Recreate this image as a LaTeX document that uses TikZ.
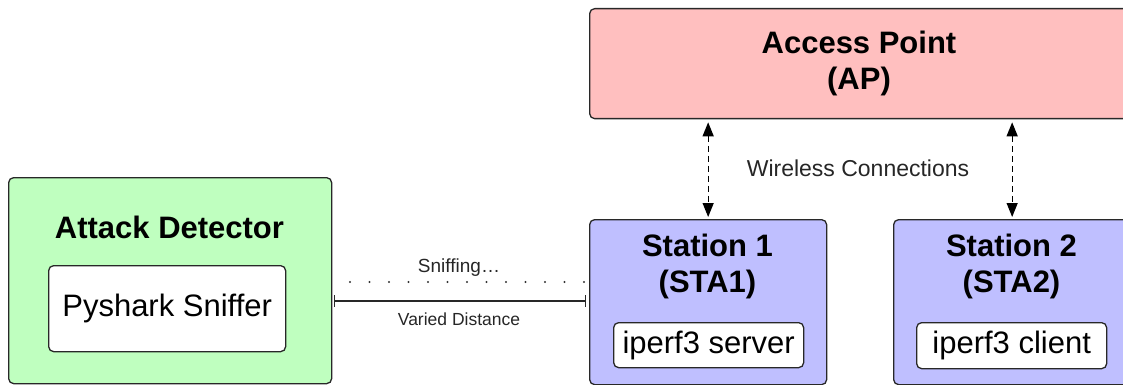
\documentclass[tikz,border=0pt]{standalone}
\usepackage{fontspec}
\setmainfont{Liberation Sans}
\usetikzlibrary{arrows.meta}
\definecolor{appink}{RGB}{255,191,191}
\definecolor{stablue}{RGB}{191,191,255}
\definecolor{detgreen}{RGB}{191,255,191}
\definecolor{edgecol}{RGB}{40,40,40}
\begin{document}
\begin{tikzpicture}[x=1pt,y=-1pt,
  box/.style={draw=edgecol,line width=1.3pt,rounded corners=5pt,inner sep=0pt,anchor=north west},
  titletext/.style={font=\fontsize{31}{36}\selectfont\bfseries,align=center,inner sep=0pt,text=black},
  innertext/.style={font=\fontsize{31}{36}\selectfont,inner sep=0pt,text=black},
  wconn/.style={line width=1.3pt,dash pattern=on 6pt off 4pt,{Triangle[width=11pt,length=14pt]}-{Triangle[width=11pt,length=14pt]},shorten <=3pt,shorten >=2pt},
  smalltext/.style={font=\fontsize{#1}{#1}\selectfont,inner sep=0pt,text=black!85}
]
\useasboundingbox (0,0) rectangle (1123,385);
\clip (0,0) rectangle (1123,385);

% Access Point
\node[box,fill=appink,minimum width=540pt,minimum height=110pt] (ap) at (589,8) {};
\node[titletext] (aptitle) at (859,63) {Access Point\\(AP)};

% Station 1
\node[box,fill=stablue,minimum width=237pt,minimum height=165pt] (sta1) at (589,219) {};
\node[titletext] (sta1title) at (707.5,266) {Station 1\\(STA1)};
\node[box,fill=white,minimum width=190pt,minimum height=45pt] (srv) at (613,322) {};
\node[innertext] (srvtext) at (srv.center) {iperf3 server};

% Station 2
\node[box,fill=stablue,minimum width=237pt,minimum height=165pt] (sta2) at (893,219) {};
\node[titletext] (sta2title) at (1011.5,266) {Station 2\\(STA2)};
\node[box,fill=white,minimum width=190pt,minimum height=46pt] (cli) at (916,322) {};
\node[innertext] (clitext) at (cli.center) {iperf3 client};

% Attack Detector
\node[box,fill=detgreen,minimum width=323pt,minimum height=206pt] (det) at (8,177) {};
\node[titletext] (dettitle) at (169.5,227) {Attack Detector};
\node[box,fill=white,minimum width=237pt,minimum height=86pt] (sniff) at (48,265) {};
\node[innertext] (snifftext) at (sniff.center) {Pyshark Sniffer};

% Wireless connections
\draw[wconn] (sta1.north |- ap.south) -- (sta1.north);
\draw[wconn] (sta2.north |- ap.south) -- (sta2.north);
\node[smalltext=23] (wl) at (858,168) {Wireless Connections};

% Sniffing dotted line
\coordinate (d1) at (350,282);
\coordinate (d2) at (585,282);
\draw[black!80,line width=2.2pt,line cap=round,dash pattern=on 0pt off 19.5pt] (d1) -- (d2);
\node[smalltext=19] (sn) at (459,268) {Sniffing…};

% Varied distance
\coordinate (m1) at (334,301);
\coordinate (m2) at (586,301);
\draw[edgecol,line width=1.3pt,{Bar[width=12pt,line width=1.3pt]}-{Bar[width=12pt,line width=1.3pt]}] (m1) -- (m2);
\node[smalltext=17.5] (vd) at (459,319) {Varied Distance};
\end{tikzpicture}
\end{document}
